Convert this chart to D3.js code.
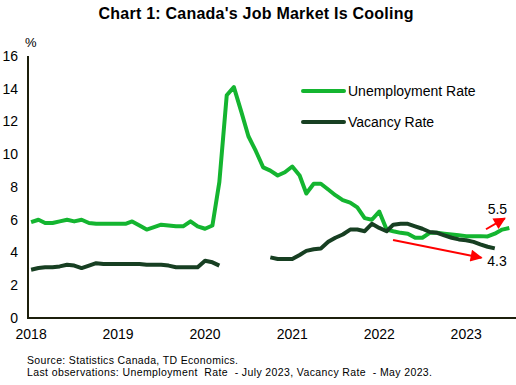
<!DOCTYPE html>
<html>
<head>
<meta charset="utf-8">
<script src="https://cdn.jsdelivr.net/npm/d3@7"></script>
<style>
  body { margin: 0; background: #fff; }
  svg text { font-family: Arial, "Liberation Sans", sans-serif; fill: #000; }
</style>
</head>
<body>
<div id="chart"></div>
<script>
// monthly data, Jan 2018 onward
var firstMonth = "2018-01";

var unemployment = [
  5.85, 6.0, 5.8, 5.8, 5.9, 6.0, 5.9, 6.0, 5.8, 5.75, 5.75, 5.75,
  5.75, 5.75, 5.9, 5.65, 5.4, 5.55, 5.7, 5.65, 5.6, 5.6, 5.9, 5.6,
  5.45, 5.65, 8.3, 13.6, 14.1, 12.6, 11.1, 10.2, 9.2, 9.0, 8.7, 8.9,
  9.25, 8.7, 7.6, 8.2, 8.2, 7.85, 7.5, 7.2, 7.05, 6.75, 6.1, 6.0,
  6.5, 5.4, 5.3, 5.2, 5.15, 4.9, 4.9, 5.2, 5.2, 5.15, 5.1, 5.05,
  5.0, 5.0, 5.0, 4.98, 5.15, 5.4, 5.5
];

var vacancy = [
  2.95, 3.05, 3.1, 3.1, 3.15, 3.25, 3.2, 3.05, 3.2, 3.35, 3.3, 3.3,
  3.3, 3.3, 3.3, 3.3, 3.25, 3.25, 3.25, 3.2, 3.1, 3.1, 3.1, 3.1,
  3.5, 3.4, 3.2, null, null, null, null, null, null, 3.7, 3.6, 3.6,
  3.6, 3.85, 4.1, 4.2, 4.25, 4.65, 4.9, 5.1, 5.4, 5.4, 5.3, 5.75,
  5.5, 5.3, 5.7, 5.75, 5.75, 5.6, 5.45, 5.25, 5.2, 5.05, 4.9, 4.8,
  4.75, 4.65, 4.5, 4.35, 4.25
];

var yearTicks = ["2018", "2019", "2020", "2021", "2022", "2023"];
var yTicks = [0, 2, 4, 6, 8, 10, 12, 14, 16];

var seriesNames = ["Unemployment Rate", "Vacancy Rate"];
var seriesColors = ["#14b530", "#173f22"];

// arrows: [from month, from value, to month, to value]
var arrows = [
  ["2023-03-25", 5.42, "2023-06-12", 6.09],
  ["2022-02-28", 4.76, "2023-03-06", 3.68]
];
var arrowLabels = [["5.5", "2023-05-12", 6.65], ["4.3", "2023-05-10", 3.48]];

var W = 516, H = 385;
var margin = {top: 56, right: 0, bottom: 67, left: 28},
    width = W - margin.left - margin.right,
    height = H - margin.top - margin.bottom;

var svg = d3.select("#chart").append("svg").attr("width", W).attr("height", H);

var parseMonth = d3.timeParse("%Y-%m");
var parseDay = d3.timeParse("%Y-%m-%d");
var start = parseMonth(firstMonth);
function monthAt(i) { return d3.timeMonth.offset(start, i); }

var x = d3.scaleTime()
    .domain([parseDay("2017-12-19"), parseDay("2023-07-29")])
    .range([0, width]);
var y = d3.scaleLinear().domain([0, 16]).range([height, 0]);

svg.append("text")
    .attr("x", 256).attr("y", 18.5)
    .attr("text-anchor", "middle")
    .attr("textLength", 315).attr("lengthAdjust", "spacing")
    .style("font-size", "16px").style("font-weight", "bold")
    .text("Chart 1: Canada's Job Market Is Cooling");

var g = svg.append("g").attr("transform", "translate(" + margin.left + "," + margin.top + ")");

// y labels
g.selectAll(".ytick").data(yTicks).enter().append("text")
    .attr("x", -10).attr("y", function(d) { return y(d); })
    .attr("dy", "0.35em")
    .attr("text-anchor", "end")
    .style("font-size", "14px")
    .text(function(d) { return d; });

g.append("text").attr("x", -3).attr("y", -9).style("font-size", "13px").text("%");

// x labels
g.selectAll(".xtick").data(yearTicks).enter().append("text")
    .attr("x", function(d) { return x(parseMonth(d + "-01")); })
    .attr("y", height + 21)
    .attr("text-anchor", "middle")
    .style("font-size", "14px")
    .text(function(d) { return d; });

var line = d3.line()
    .defined(function(d) { return d != null; })
    .x(function(d, i) { return x(monthAt(i)); })
    .y(function(d) { return y(d); });

[unemployment, vacancy].forEach(function(s, k) {
  g.append("path")
      .datum(s)
      .attr("fill", "none")
      .attr("stroke", seriesColors[k])
      .attr("stroke-width", 4)
      .attr("stroke-linejoin", "round")
      .attr("d", line);
});

// axes lines
g.append("line").attr("x1", 0).attr("x2", 0).attr("y1", 0).attr("y2", height)
    .attr("stroke", "#1c1f0c").attr("stroke-width", 2);
g.append("line").attr("x1", -1).attr("x2", width).attr("y1", height).attr("y2", height)
    .attr("stroke", "#1c1f0c").attr("stroke-width", 2);

// legend
var legend = svg.append("g").attr("transform", "translate(302,91)");
seriesNames.forEach(function(name, k) {
  var row = legend.append("g").attr("transform", "translate(0," + (k * 31) + ")");
  row.append("line").attr("x1", 1).attr("x2", 42).attr("y1", 0).attr("y2", 0)
      .attr("stroke", seriesColors[k]).attr("stroke-width", 4).attr("stroke-linecap", "round");
  row.append("text").attr("x", 46).attr("y", 0).attr("dy", "0.35em")
      .style("font-size", "14px").text(name);
});

// red arrows
var defs = svg.append("defs");
defs.append("marker")
    .attr("id", "head").attr("viewBox", "0 0 10 10")
    .attr("refX", 9).attr("refY", 5)
    .attr("markerWidth", 7).attr("markerHeight", 6)
    .attr("markerUnits", "strokeWidth")
    .attr("orient", "auto")
  .append("path").attr("d", "M0,0L10,5L0,10Z").attr("fill", "#ff0000");

arrows.forEach(function(a) {
  g.append("line")
      .attr("x1", x(parseDay(a[0]))).attr("y1", y(a[1]))
      .attr("x2", x(parseDay(a[2]))).attr("y2", y(a[3]))
      .attr("stroke", "#ff0000").attr("stroke-width", 2)
      .attr("marker-end", "url(#head)");
});

arrowLabels.forEach(function(l) {
  g.append("text")
      .attr("x", x(parseDay(l[1]))).attr("y", y(l[2]))
      .attr("dy", "0.35em").attr("text-anchor", "middle")
      .style("font-size", "14px").text(l[0]);
});

// footer
svg.append("text").attr("x", 27).attr("y", 364).style("font-size", "10.5px")
    .attr("textLength", 211).attr("lengthAdjust", "spacing")
    .text("Source: Statistics Canada, TD Economics.");
svg.append("text").attr("x", 27).attr("y", 376).style("font-size", "10.5px")
    .attr("textLength", 405).attr("lengthAdjust", "spacing")
    .style("white-space", "pre")
    .text("Last observations: Unemployment  Rate  - July 2023, Vacancy Rate  - May 2023.");
</script>
</body>
</html>
